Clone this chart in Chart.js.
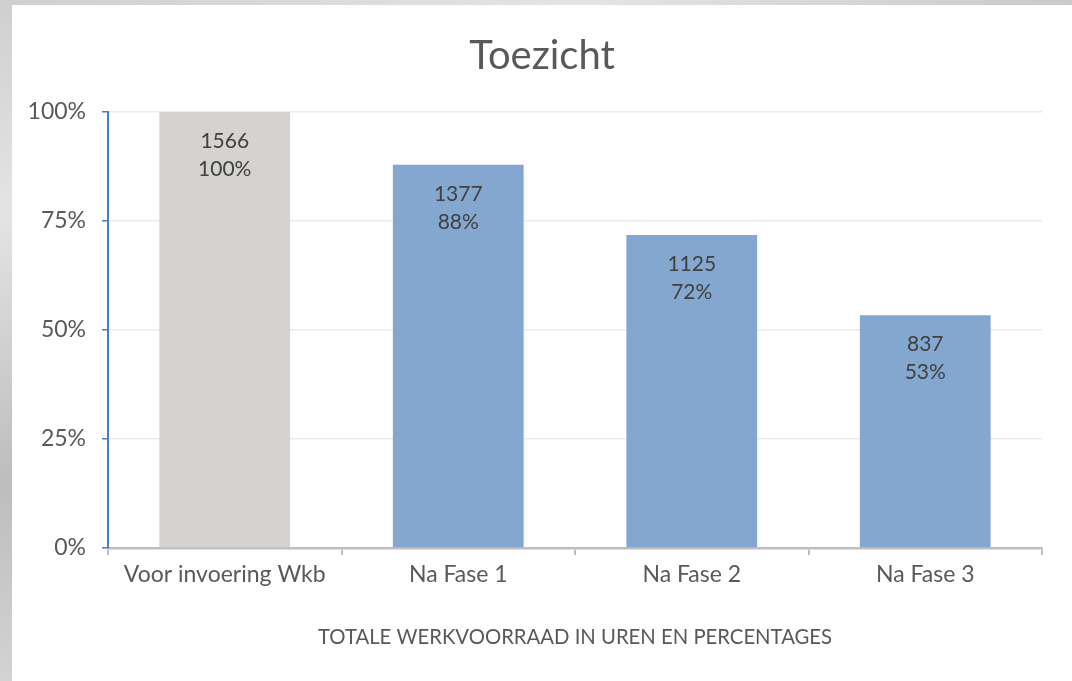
<!DOCTYPE html>
<html lang="nl">
<head>
    <meta charset="UTF-8">
    <title>Toezicht</title>
    <script src="https://cdn.jsdelivr.net/npm/chart.js"></script>
    <style>
        body {
            margin: 0;
            padding: 0;
            width: 1072px;
            height: 681px;
            overflow: hidden;
            background: linear-gradient(160deg, #cfcfcf 0%, #e4e4e4 20%, #bdbdbd 45%, #dadada 70%, #c4c4c4 100%);
        }

        .panel {
            position: absolute;
            left: 12px;
            top: 5px;
            width: 1060px;
            height: 676px;
            background-color: #fff;
        }
    </style>
</head>
<body>
    <div class="panel">
        <canvas id="chart" width="1060" height="676"></canvas>
    </div>

    <script>
        // waarden
        var categories = ['Voor invoering Wkb', 'Na Fase 1', 'Na Fase 2', 'Na Fase 3'];
        var hours = [1566, 1377, 1125, 837];
        var percentages = [100, 87.9, 71.8, 53.4];
        var yTicks = [0, 25, 50, 75, 100];
        var barColors = ['#d4d3cf', '#84a7d0', '#84a7d0', '#84a7d0'];

        var fontFamily = 'Lato, "Open Sans", sans-serif';

        // labels in de staven: uren en percentage
        var barLabels = {
            id: 'barLabels',
            afterDatasetsDraw: function (chart) {
                var ctx = chart.ctx;
                var meta = chart.getDatasetMeta(0);
                ctx.save();
                ctx.fillStyle = '#404040';
                ctx.font = '21px ' + fontFamily;
                ctx.textAlign = 'center';
                ctx.textBaseline = 'middle';
                meta.data.forEach(function (bar, i) {
                    ctx.fillText(String(hours[i]), bar.x, bar.y + 29);
                    ctx.fillText(Math.round(percentages[i]) + '%', bar.x, bar.y + 57);
                });
                ctx.restore();
            }
        };

        // titel over de volle breedte centreren (niet binnen de padding)
        var titleFullWidth = {
            id: 'titleFullWidth',
            afterLayout: function (chart) {
                if (chart.titleBlock) {
                    chart.titleBlock.left = 0;
                    chart.titleBlock.right = chart.width;
                    chart.titleBlock.width = chart.width;
                }
            }
        };

        new Chart(document.getElementById('chart').getContext('2d'), {
            type: 'bar',
            data: {
                labels: categories,
                datasets: [{
                    data: percentages,
                    backgroundColor: barColors,
                    categoryPercentage: 0.56,
                    barPercentage: 1
                }]
            },
            options: {
                responsive: false,
                animation: false,
                layout: {
                    padding: { left: 0, right: 30, top: 0, bottom: 0 }
                },
                plugins: {
                    legend: { display: false },
                    tooltip: { enabled: false },
                    title: {
                        display: true,
                        text: 'Toezicht',
                        color: '#595959',
                        font: { family: fontFamily, size: 40, weight: 'normal' },
                        padding: { top: 27, bottom: 32 }
                    }
                },
                scales: {
                    x: {
                        afterFit: function (scale) {
                            scale.height = 133;
                        },
                        grid: {
                            display: true,
                            drawOnChartArea: false,
                            offset: true,
                            tickLength: 7,
                            tickColor: '#bfbfbf',
                            lineWidth: 2
                        },
                        border: { color: '#bfbfbf', width: 2.5 },
                        ticks: {
                            color: '#595959',
                            font: { family: fontFamily, size: 23 },
                            padding: 6
                        },
                        title: {
                            display: true,
                            text: 'TOTALE WERKVOORRAAD IN UREN EN PERCENTAGES',
                            color: '#595959',
                            font: { family: fontFamily, size: 20.3 },
                            padding: { top: 20, bottom: 31 }
                        }
                    },
                    y: {
                        min: 0,
                        max: 100,
                        afterBuildTicks: function (scale) {
                            scale.ticks = yTicks.map(function (v) { return { value: v }; });
                        },
                        afterFit: function (scale) {
                            scale.width = 96;
                        },
                        grid: {
                            color: '#ebebeb',
                            lineWidth: 1.5,
                            tickColor: '#4a7ec4',
                            tickLength: 6
                        },
                        border: { color: '#4a7ec4', width: 2 },
                        ticks: {
                            color: '#595959',
                            font: { family: fontFamily, size: 23 },
                            padding: 16,
                            callback: function (v) { return v + '%'; }
                        }
                    }
                }
            },
            plugins: [barLabels, titleFullWidth]
        });
    </script>
</body>
</html>
